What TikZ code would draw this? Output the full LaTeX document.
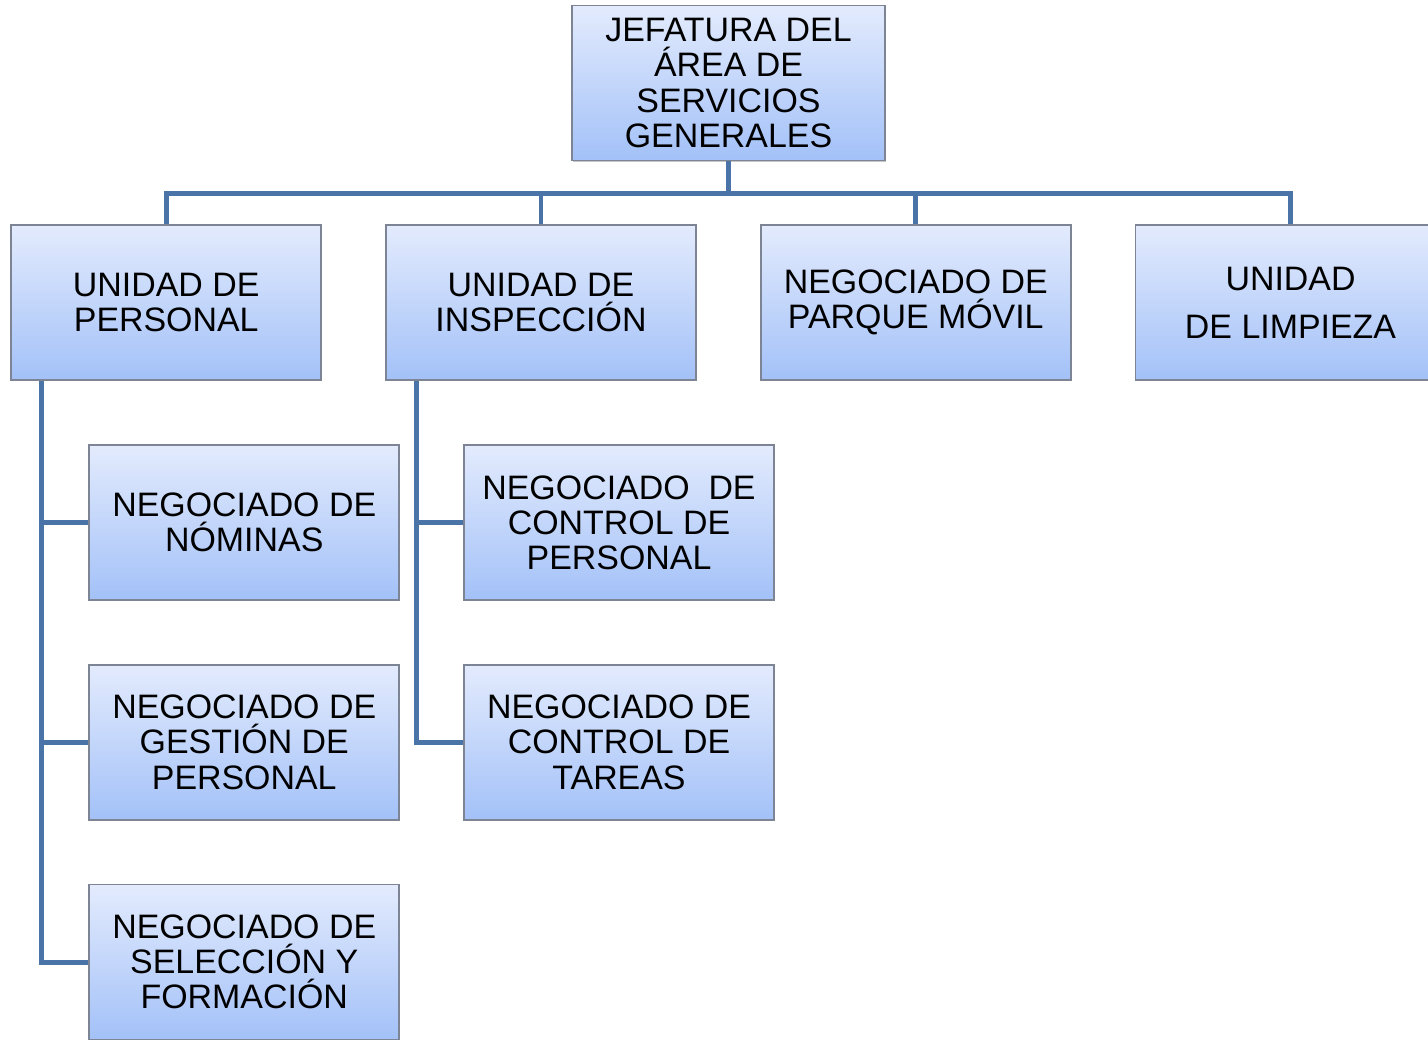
\documentclass[tikz,border=0pt]{standalone}
\usepackage{fontspec}
\setmainfont{Liberation Sans}
\usepackage{xcolor}
\usetikzlibrary{positioning,shadows}

\definecolor{cajaarriba}{RGB}{227,235,253}
\definecolor{cajaabajo}{RGB}{163,193,248}
\definecolor{cajaborde}{RGB}{125,133,148}
\definecolor{lineaazul}{RGB}{74,116,168}

\begin{document}
\begin{tikzpicture}[node distance=1.26cm]
    % Estilos
    \tikzstyle{caja}=[rectangle, minimum width=6.2cm, minimum height=3.1cm, inner sep=2pt, align=center, text centered, draw=cajaborde, line width=1pt, top color=cajaarriba, bottom color=cajaabajo, drop shadow={shadow xshift=0.7pt, shadow yshift=-0.7pt, opacity=0.45}, font=\fontsize{19.3}{20}\selectfont]
    \tikzstyle{conector}=[draw=lineaazul, line width=2.8pt]

    \useasboundingbox (0,0) rectangle (28.56,-20.78);

    % Nodos
    \node (jefatura) [caja, minimum width=6.26cm] at (14.57,-1.66) {JEFATURA DEL\\ÁREA DE\\SERVICIOS\\GENERALES};
    \node (inspeccion) [caja, below=of jefatura, xshift=-3.75cm] {UNIDAD DE\\INSPECCIÓN};
    \node (personal) [caja, left=of inspeccion] {UNIDAD DE\\PERSONAL};
    \node (parque) [caja, right=of inspeccion] {NEGOCIADO DE\\PARQUE MÓVIL};
    \node (limpieza) [caja, right=of parque] {UNIDAD\\[7pt]DE LIMPIEZA};
    \node (nominas) [caja, below=of personal, xshift=1.56cm] {NEGOCIADO DE\\NÓMINAS};
    \node (gestion) [caja, below=of nominas] {NEGOCIADO DE\\GESTIÓN DE\\PERSONAL};
    \node (seleccion) [caja, below=of gestion] {NEGOCIADO DE\\SELECCIÓN Y\\FORMACIÓN};
    \node (control) [caja, below=of inspeccion, xshift=1.56cm] {NEGOCIADO \ DE\\CONTROL DE\\PERSONAL};
    \node (tareas) [caja, below=of control] {NEGOCIADO DE\\CONTROL DE\\TAREAS};

    % Conexiones
    \draw [conector] (jefatura.south) -- ++(0,-0.64) -| (personal.north);
    \draw [conector] (jefatura.south) -- ++(0,-0.64) -| (inspeccion.north);
    \draw [conector] (jefatura.south) -- ++(0,-0.64) -| (parque.north);
    \draw [conector] (jefatura.south) -- ++(0,-0.64) -| (limpieza.north);
    \draw [conector] ([xshift=0.62cm]personal.south west) |- (nominas.west);
    \draw [conector] ([xshift=0.62cm]personal.south west) |- (gestion.west);
    \draw [conector] ([xshift=0.62cm]personal.south west) |- (seleccion.west);
    \draw [conector] ([xshift=0.62cm]inspeccion.south west) |- (control.west);
    \draw [conector] ([xshift=0.62cm]inspeccion.south west) |- (tareas.west);

\end{tikzpicture}
\end{document}
